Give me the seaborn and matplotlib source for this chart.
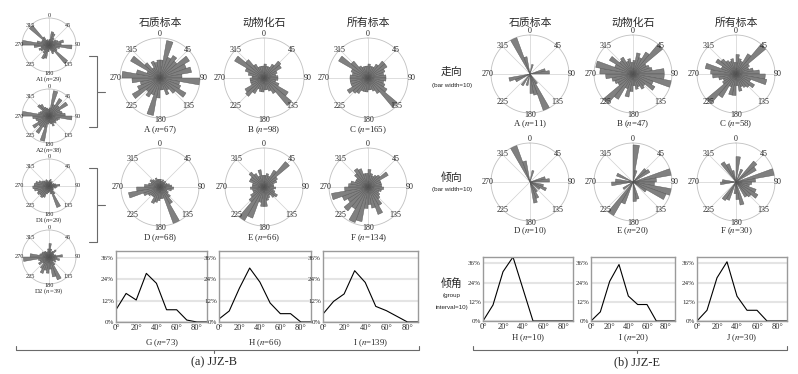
import numpy as np
import pandas as pd
import matplotlib
matplotlib.use("Agg")
import matplotlib.pyplot as plt
import seaborn as sns

sns.set_theme(style="white")
plt.rcParams["font.family"] = ["Liberation Serif", "Noto Sans CJK SC"]
plt.rcParams["mathtext.fontset"] = "stix"

W, H = 798, 374

# rose bins: 10 degree classes, centres 5..355
bin_centres = np.arange(5, 360, 10)
grid_angles = [0, 45, 90, 135, 180, 225, 270, 315]
label_radius = [1.1, 1.0, 1.08, 1.0, 1.04, 1.0, 1.1, 1.0]

# left column (JJZ-B sub-sets), relative bar length
rose_A1 = [0.2, 0.5, 0.45, 0.3, 0.2, 0.3, 0.35, 0.55, 0.45, 0.85, 0.4, 0.3, 0.35, 0.9, 0.3, 0.35, 0.2, 0.15,
           0.25, 0.5, 0.55, 0.35, 0.25, 0.35, 0.4, 0.3, 0.55, 1.0, 0.45, 0.3, 0.3, 0.95, 0.35, 0.2, 0.2, 0.15]
rose_A2 = [0.3, 0.95, 0.45, 0.75, 0.5, 0.8, 0.45, 0.5, 0.6, 0.85, 0.4, 0.35, 0.3, 0.35, 0.3, 0.4, 0.3, 0.25,
           0.3, 0.95, 0.45, 0.75, 0.5, 0.7, 0.45, 0.5, 0.6, 1.0, 0.4, 0.35, 0.3, 0.55, 0.5, 0.35, 0.3, 0.25]
rose_D1 = [0.2, 0.25, 0.15, 0.2, 0.15, 0.1, 0.2, 0.25, 0.4, 0.3, 0.25, 0.15, 0.2, 0.2, 0.35, 0.85, 0.3, 0.2,
           0.25, 0.3, 0.45, 0.5, 0.45, 0.5, 0.45, 0.55, 0.6, 0.55, 0.5, 0.4, 0.3, 0.25, 0.2, 0.25, 0.2, 0.15]
rose_D2 = [0.5, 0.3, 0.2, 0.25, 0.35, 0.2, 0.2, 0.25, 0.5, 0.3, 0.4, 0.25, 0.3, 0.2, 0.35, 0.9, 0.75, 0.45,
           0.6, 0.5, 0.65, 0.5, 0.3, 0.45, 0.35, 0.4, 0.95, 0.7, 0.35, 0.3, 0.3, 0.25, 0.25, 0.2, 0.2, 0.3]

# (a) JJZ-B
rose_a_A = [0.45, 0.95, 0.55, 0.65, 0.55, 0.85, 0.7, 0.8, 0.55, 1.0, 0.5, 0.55, 0.75, 0.5, 0.35, 0.45, 0.3, 0.3,
            0.5, 0.95, 0.45, 0.55, 0.45, 0.8, 0.6, 0.5, 0.7, 0.95, 0.6, 0.35, 0.85, 0.5, 0.3, 0.45, 0.4, 0.45]
rose_a_B = [0.35, 0.3, 0.3, 0.4, 0.55, 0.5, 0.35, 0.3, 0.35, 0.35, 0.3, 0.4, 0.7, 0.9, 0.45, 0.35, 0.3, 0.3,
            0.35, 0.35, 0.3, 0.45, 0.6, 0.55, 0.35, 0.35, 0.35, 0.3, 0.4, 0.5, 0.85, 0.6, 0.4, 0.3, 0.3, 0.3]
rose_a_C = [0.35, 0.3, 0.3, 0.4, 0.55, 0.55, 0.45, 0.4, 0.45, 0.45, 0.4, 0.45, 0.55, 0.95, 0.45, 0.35, 0.3, 0.3,
            0.35, 0.35, 0.35, 0.45, 0.5, 0.6, 0.45, 0.45, 0.45, 0.45, 0.4, 0.45, 0.85, 0.55, 0.35, 0.3, 0.3, 0.3]
rose_a_D = [0.2, 0.15, 0.2, 0.15, 0.2, 0.15, 0.2, 0.25, 0.3, 0.35, 0.3, 0.2, 0.25, 0.35, 0.5, 1.0, 0.3, 0.3,
            0.35, 0.4, 0.45, 0.3, 0.3, 0.35, 0.45, 0.82, 0.6, 0.4, 0.3, 0.25, 0.3, 0.25, 0.2, 0.25, 0.2, 0.2]
rose_a_E = [0.3, 0.35, 0.3, 0.5, 0.85, 0.4, 0.35, 0.25, 0.25, 0.3, 0.25, 0.3, 0.4, 0.35, 0.25, 0.3, 0.35, 0.5,
            0.5, 0.4, 0.85, 1.0, 0.5, 0.4, 0.3, 0.3, 0.35, 0.3, 0.3, 0.4, 0.4, 0.5, 0.4, 0.3, 0.45, 0.3]
rose_a_F = [0.45, 0.35, 0.3, 0.35, 0.4, 0.6, 0.35, 0.35, 0.35, 0.4, 0.35, 0.3, 0.35, 0.4, 0.55, 0.75, 0.55, 0.45,
            0.55, 0.9, 0.97, 0.65, 0.8, 0.6, 0.7, 0.95, 0.6, 0.5, 0.45, 0.35, 0.35, 0.45, 0.55, 0.5, 0.35, 0.35]

# (b) JJZ-E
rose_b_A = [0, 0.25, 0, 0, 0, 0, 0, 0.4, 0.5, 0, 0, 0, 0, 0, 0.3, 1.0, 0.55, 0.5,
            0, 0.3, 0, 0.35, 0, 0, 0.4, 0.55, 0, 0, 0, 0, 0, 0, 0, 1.0, 0.45, 0]
rose_b_B = [0.35, 0.55, 0.45, 0.65, 1.0, 0.4, 0.45, 0.5, 0.8, 0.8, 1.0, 0.55, 0.65, 0.4, 0.45, 0.35, 0.4, 0.3,
            0.45, 0.6, 0.4, 0.75, 1.0, 0.45, 0.5, 0.55, 0.7, 0.85, 0.97, 0.5, 0.7, 0.45, 0.5, 0.35, 0.4, 0.3]
rose_b_C = [0.5, 0.4, 0.35, 0.6, 1.0, 0.4, 0.35, 0.45, 0.6, 0.75, 0.8, 0.4, 0.55, 0.45, 0.4, 0.35, 0.45, 0.3,
            0.55, 0.55, 0.35, 0.7, 1.0, 0.4, 0.35, 0.45, 0.6, 0.65, 0.8, 0.4, 0.6, 0.5, 0.4, 0.35, 0.4, 0.3]
rose_b_D = [0, 0.3, 0, 0, 0, 0, 0, 0.4, 0.5, 0, 0.35, 0.45, 0.3, 0, 0.3, 0.45, 0.55, 0,
            0, 0, 0, 0, 0, 0, 0, 0, 0, 0, 0, 0, 0, 0, 0, 1.0, 0.55, 0]
rose_b_E = [0.95, 0.3, 0, 0, 0.45, 0.5, 0, 1.0, 0.6, 0.55, 1.0, 0.9, 0.4, 0, 0, 0, 0.45, 0.5,
            0, 0, 0.6, 1.0, 0, 0.3, 0, 0, 0.55, 0.45, 0, 0.45, 0, 0, 0, 0, 0, 0]
rose_b_F = [0.65, 0, 0.35, 0, 0.7, 0.6, 0, 1.0, 0.5, 0.4, 0.35, 0.55, 0.65, 0.5, 0.45, 0, 0.6, 0.45,
            0.3, 0, 0.5, 0.55, 0, 0, 0, 0, 0.4, 0.35, 0, 0, 0, 0, 0.6, 0.5, 0.3, 0]

# dip angle frequency (%), group interval 10
dip_bins = [0, 10, 20, 30, 40, 50, 60, 70, 80, 90]
dip_a_G = [6.9, 16.1, 12.4, 27.4, 21.8, 6.9, 6.9, 1.1, 0, 0]
dip_a_H = [1.7, 6.2, 19.1, 30.4, 22.5, 10.7, 4.7, 4.7, 0, 0]
dip_a_I = [4.5, 11.6, 15.8, 28.9, 22.3, 8.8, 6.4, 3.2, 0, 0]
dip_b_H = [0, 10, 30.8, 40, 20, 0, 0, 0, 0, 0]
dip_b_I = [0, 5.7, 24.8, 35.3, 15.6, 10.3, 10.3, 0, 0, 0]
dip_b_J = [0, 6.7, 27, 37, 15.5, 6.7, 6.7, 0, 0, 0]

fig = plt.figure(figsize=(W / 100, H / 100), dpi=100)


def px_axes(x0, y0, w, h, **kw):
    return fig.add_axes([x0 / W, 1 - (y0 + h) / H, w / W, h / H], **kw)


def ftext(x, y, s, **kw):
    fig.text(x / W, 1 - y / H, s, ha="center", va="center", **kw)


def rose(cx, cy, r, vals, label, label_y, fs=5.8, lfs=6.3):
    ax = px_axes(cx - r, cy - r, 2 * r, 2 * r, projection="polar")
    ax.bar(np.deg2rad(bin_centres), vals, width=np.deg2rad(10), color="#808080",
           edgecolor="#505050", linewidth=0.3, zorder=3)
    ax.set_theta_zero_location("N")
    ax.set_theta_direction(-1)
    ax.set_ylim(0, 1)
    ax.set_yticks([])
    ax.set_xticks(np.deg2rad(grid_angles))
    ax.set_xticklabels([])
    ax.xaxis.grid(True, color="#d0d0d0", linewidth=0.5)
    ax.spines["polar"].set_color("#c0c0c0")
    ax.spines["polar"].set_linewidth(0.6)
    ax.set_facecolor("white")
    for a, rr in zip(grid_angles, label_radius):
        ax.text(np.deg2rad(a), rr, str(a), ha="center", va="center", fontsize=fs,
                clip_on=False, zorder=5)
    ftext(cx, label_y, label, fontsize=lfs)


def dip_chart(x0, y0, w, h, vals, label, label_y):
    ax = px_axes(x0, y0, w, h)
    df = pd.DataFrame({"dip": dip_bins, "pct": vals})
    sns.lineplot(data=df, x="dip", y="pct", ax=ax, color="black", linewidth=0.8)
    ax.set_xlim(0, 90)
    ax.set_ylim(0, 40)
    ax.set_yticks([0, 12, 24, 36])
    ax.set_yticklabels(["0%", "12%", "24%", "36%"], fontsize=5)
    ax.set_xticks([0, 20, 40, 60, 80])
    ax.set_xticklabels(["0°", "20°", "40°", "60°", "80°"], fontsize=6)
    ax.yaxis.grid(True, color="#e4e4e4", linewidth=1.5)
    ax.xaxis.grid(False)
    for sp in ax.spines.values():
        sp.set_color("#9a9a9a")
        sp.set_linewidth(1.0)
    ax.tick_params(length=0, pad=1.5)
    ax.set_xlabel("")
    ax.set_ylabel("")
    ftext(x0 + w / 2, label_y, label, fontsize=6.3)


# left column
rose(49, 45, 27, rose_A1, "A1($n$=29)", 79.5, fs=4.5, lfs=4.8)
rose(49, 116, 27, rose_A2, "A2($n$=38)", 150, fs=4.5, lfs=4.8)
rose(49, 186, 27, rose_D1, "D1($n$=29)", 220, fs=4.5, lfs=4.8)
rose(49, 257, 27, rose_D2, "D2 ($n$=39)", 291, fs=4.5, lfs=4.8)

# (a) JJZ-B
titles = ["石质标本", "动物化石", "所有标本"]
a_x = [160, 264, 368]
b_x = [530, 633, 736]
for x, t in zip(a_x + b_x, titles + titles):
    ftext(x, 23, t, fontsize=7.8)

rose(a_x[0], 78, 40, rose_a_A, "A ($n$=67)", 130)
rose(a_x[1], 78, 40, rose_a_B, "B ($n$=98)", 130)
rose(a_x[2], 78, 40, rose_a_C, "C ($n$=165)", 130)
rose(a_x[0], 187, 39, rose_a_D, "D ($n$=68)", 238)
rose(a_x[1], 187, 39, rose_a_E, "E ($n$=66)", 238)
rose(a_x[2], 187, 39, rose_a_F, "F ($n$=134)", 238)

dip_chart(116, 251, 91, 71, dip_a_G, "G ($n$=73)", 343)
dip_chart(219, 251, 92, 71, dip_a_H, "H ($n$=66)", 343)
dip_chart(323, 251, 95, 71, dip_a_I, "I ($n$=139)", 343)

# (b) JJZ-E
rose(b_x[0], 74, 39, rose_b_A, "A ($n$=11)", 124)
rose(b_x[1], 74, 39, rose_b_B, "B ($n$=47)", 124)
rose(b_x[2], 74, 39, rose_b_C, "C ($n$=58)", 124)
rose(b_x[0], 182, 39, rose_b_D, "D ($n$=10)", 231)
rose(b_x[1], 182, 39, rose_b_E, "E ($n$=20)", 231)
rose(b_x[2], 182, 39, rose_b_F, "F ($n$=30)", 231)

dip_chart(483, 257, 90, 64, dip_b_H, "H ($n$=10)", 338)
dip_chart(591, 257, 84, 64, dip_b_I, "I ($n$=20)", 338)
dip_chart(697, 257, 90, 64, dip_b_J, "J ($n$=30)", 338)

# row captions between the two groups
sans = ["Liberation Sans", "Noto Sans CJK SC"]
ftext(452, 72, "走向", fontsize=7.8)
ftext(452, 85, "(bar width=10)", fontsize=4.5, family=sans)
ftext(452, 178, "倾向", fontsize=7.8)
ftext(452, 190, "(bar width=10)", fontsize=4.5, family=sans)
ftext(452, 283, "倾角", fontsize=7.8)
ftext(452, 296, "(group", fontsize=4.5, family=sans)
ftext(452, 307, "interval=10)", fontsize=4.5, family=sans)

# brackets and group captions
ov = fig.add_axes([0, 0, 1, 1], zorder=-1)
ov.set_xlim(0, W)
ov.set_ylim(H, 0)
ov.axis("off")
bk = dict(color="#6a6a6a", linewidth=0.8)
for top, bot in [(56, 127), (168, 242)]:
    mid = (top + bot) / 2
    ov.plot([89, 97, 97, 89], [top, top, bot, bot], **bk)
    ov.plot([97, 105], [mid, mid], **bk)
for left, right, mid in [(16, 419, 214), (473, 787, 637)]:
    ov.plot([left, left, right, right], [346, 350, 350, 346], **bk)
    ov.plot([mid, mid], [350, 353], **bk)
ftext(214, 362, "(a) JJZ-B", fontsize=8.8)
ftext(637, 362, "(b) JJZ-E", fontsize=8.8)

fig.savefig("out.png", dpi=100)
